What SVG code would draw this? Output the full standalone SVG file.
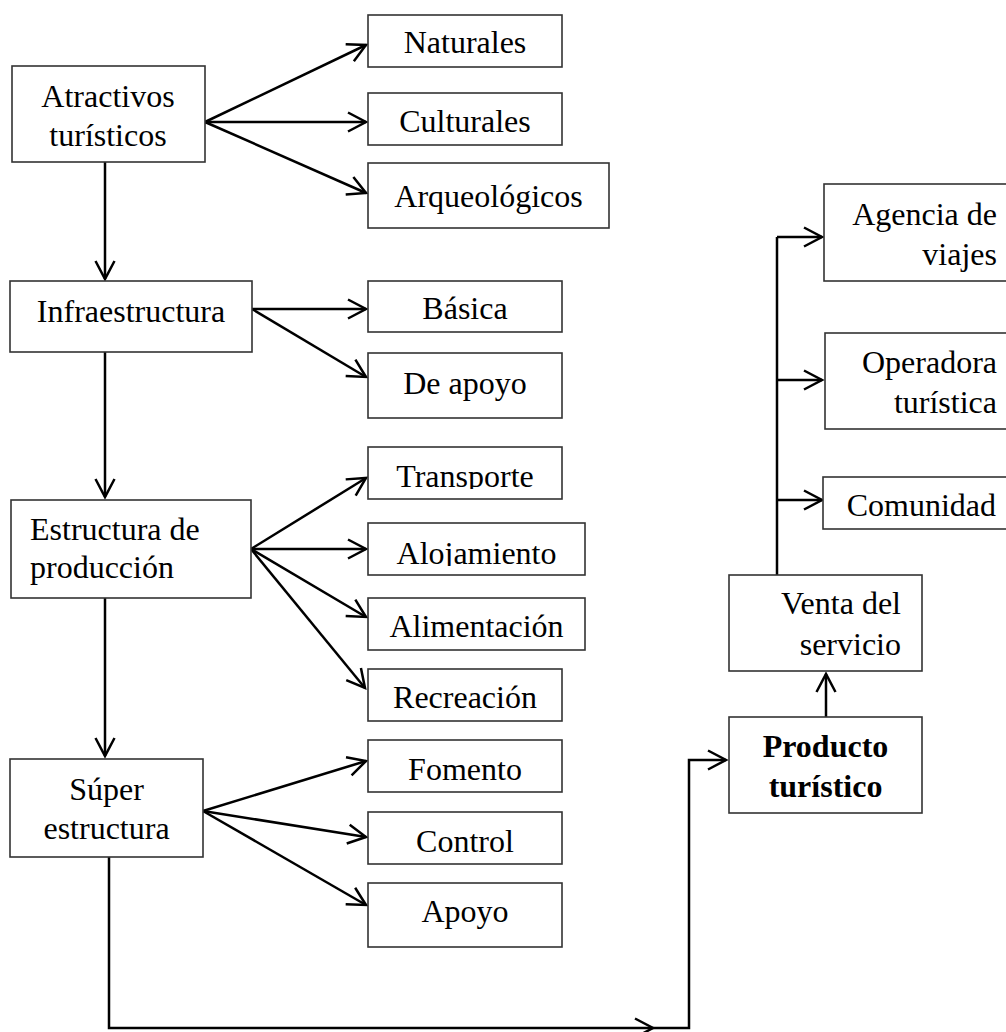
<svg xmlns="http://www.w3.org/2000/svg" width="1006" height="1032" viewBox="0 0 1006 1032">
<style>
.box{fill:#fff;stroke:#333;stroke-width:1.6}
.t{font-family:"Liberation Serif","Times New Roman",serif;font-size:32px;fill:#000}
.c{text-anchor:middle}
.r{text-anchor:end}
.b{font-weight:bold}
.ln{fill:none;stroke:#000;stroke-width:2.5}
.ar{marker-end:url(#ah)}
</style>
<defs>
<marker id="ah" markerUnits="userSpaceOnUse" markerWidth="30" markerHeight="30" viewBox="-25 -15 30 30" refX="0" refY="0" orient="auto" overflow="visible">
<path d="M-18,-9.5 L0,0 L-18,9.5" fill="none" stroke="#000" stroke-width="2.5"/>
</marker>
<clipPath id="cT"><rect x="369" y="447" width="192" height="42"/></clipPath>
<clipPath id="cA"><rect x="368" y="523" width="217" height="43"/></clipPath>
</defs>
<rect width="1006" height="1032" fill="#fff"/>

<g id="connectors">
<path class="ln ar" d="M205,122 L366,45"/>
<path class="ln ar" d="M205,122 L366,122"/>
<path class="ln ar" d="M205,122 L366,193"/>
<path class="ln ar" d="M105,162 L105,279"/>
<path class="ln ar" d="M252,309 L366,309"/>
<path class="ln ar" d="M252,309 L366,377"/>
<path class="ln ar" d="M105,352 L105,497"/>
<path class="ln ar" d="M251,549 L366,478"/>
<path class="ln ar" d="M251,549 L366,549"/>
<path class="ln ar" d="M251,549 L366,617"/>
<path class="ln ar" d="M251,549 L365,688"/>
<path class="ln ar" d="M105,598 L105,756"/>
<path class="ln ar" d="M203,811 L366,761"/>
<path class="ln ar" d="M203,811 L366,837"/>
<path class="ln ar" d="M203,811 L366,905"/>
<path class="ln ar" d="M109,857 L109,1028 L653,1028"/>
<path class="ln ar" d="M653,1028 L689,1028 L689,760 L726,760"/>
<path class="ln ar" d="M826,717 L826,674"/>
<path class="ln" d="M777,575 L777,237"/>
<path class="ln ar" d="M777,237 L822,237"/>
<path class="ln ar" d="M777,380 L822,380"/>
<path class="ln ar" d="M777,500 L822,500"/>
</g>

<g id="atractivos"><rect class="box" x="12" y="66" width="193" height="96"/>
<text class="t c" x="108" y="107">Atractivos</text><text class="t c" x="108" y="146">turísticos</text></g>
<g id="naturales"><rect class="box" x="368" y="15" width="194" height="52"/><text class="t c" x="465" y="53">Naturales</text></g>
<g id="culturales"><rect class="box" x="368" y="93" width="194" height="52"/><text class="t c" x="465" y="132">Culturales</text></g>
<g id="arqueologicos"><rect class="box" x="368" y="163" width="241" height="65"/><text class="t c" x="488.5" y="207">Arqueológicos</text></g>

<g id="infraestructura"><rect class="box" x="10" y="281" width="242" height="71"/><text class="t c" x="131" y="322">Infraestructura</text></g>
<g id="basica"><rect class="box" x="368" y="281" width="194" height="51"/><text class="t c" x="465" y="319">Básica</text></g>
<g id="deapoyo"><rect class="box" x="368" y="353" width="194" height="65"/><text class="t c" x="465" y="394">De apoyo</text></g>

<g id="estructura"><rect class="box" x="11" y="500" width="240" height="98"/>
<text class="t" x="30" y="540">Estructura de</text><text class="t" x="30" y="578">producción</text></g>
<g id="transporte"><rect class="box" x="368" y="447" width="194" height="52"/><text class="t c" x="465" y="487" clip-path="url(#cT)">Transporte</text></g>
<g id="alojamiento"><rect class="box" x="368" y="523" width="217" height="52"/><text class="t c" x="476.5" y="564" clip-path="url(#cA)">Alojamiento</text></g>
<g id="alimentacion"><rect class="box" x="368" y="598" width="217" height="52"/><text class="t c" x="476.5" y="637">Alimentación</text></g>
<g id="recreacion"><rect class="box" x="368" y="669" width="194" height="52"/><text class="t c" x="465" y="708">Recreación</text></g>

<g id="super"><rect class="box" x="10" y="759" width="193" height="98"/>
<text class="t c" x="106.5" y="800">Súper</text><text class="t c" x="106.5" y="839">estructura</text></g>
<g id="fomento"><rect class="box" x="368" y="740" width="194" height="52"/><text class="t c" x="465" y="780">Fomento</text></g>
<g id="control"><rect class="box" x="368" y="812" width="194" height="52"/><text class="t c" x="465" y="852">Control</text></g>
<g id="apoyo"><rect class="box" x="368" y="883" width="194" height="64"/><text class="t c" x="465" y="922">Apoyo</text></g>

<g id="producto"><rect class="box" x="729" y="717" width="193" height="96"/>
<text class="t c b" x="825.5" y="757">Producto</text><text class="t c b" x="825.5" y="797">turístico</text></g>
<g id="venta"><rect class="box" x="729" y="575" width="193" height="96"/>
<text class="t r" x="901" y="614">Venta del</text><text class="t r" x="901" y="655">servicio</text></g>
<g id="agencia"><rect class="box" x="824" y="184" width="220" height="97"/>
<text class="t r" x="997" y="225">Agencia de</text><text class="t r" x="997" y="265">viajes</text></g>
<g id="operadora"><rect class="box" x="825" y="333" width="220" height="96"/>
<text class="t r" x="997" y="373">Operadora</text><text class="t r" x="997" y="413">turística</text></g>
<g id="comunidad"><rect class="box" x="823" y="477" width="220" height="52"/><text class="t r" x="996" y="516">Comunidad</text></g>
</svg>
